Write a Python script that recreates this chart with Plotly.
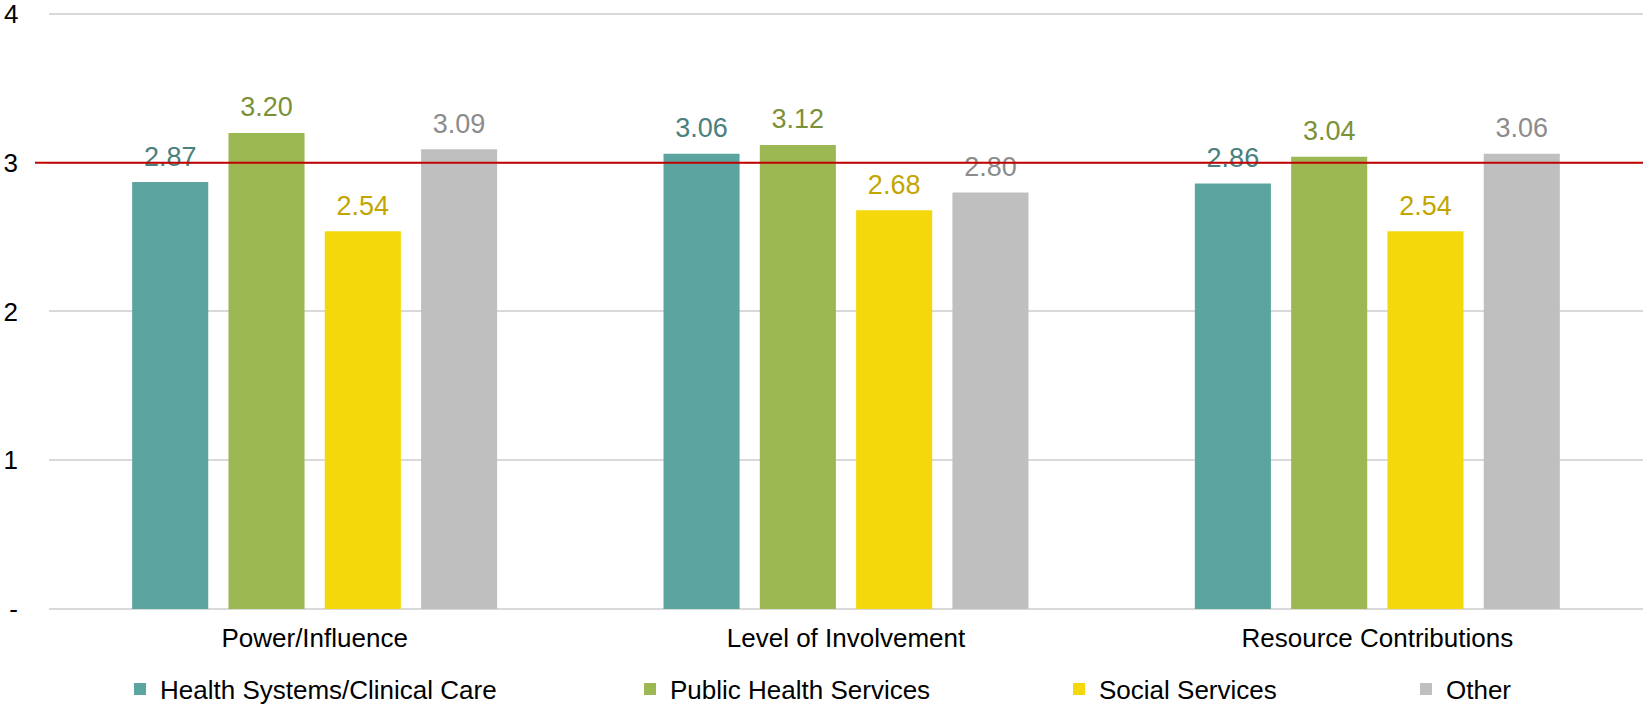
import plotly.graph_objects as go

categories = ["Power/Influence", "Level of Involvement", "Resource Contributions"]
series_names = ["Health Systems/Clinical Care", "Public Health Services", "Social Services", "Other"]
health_systems = [2.87, 3.06, 2.86]
public_health = [3.20, 3.12, 3.04]
social_services = [2.54, 2.68, 2.54]
other = [3.09, 2.80, 3.06]
series_values = [health_systems, public_health, social_services, other]

bar_colors = ["#5BA4A0", "#9BB853", "#F5D80C", "#BFBFBF"]
label_colors = ["#4A807D", "#7B9139", "#C3A500", "#8C8C8C"]
legend_text_x = [161, 671, 1100, 1447]

y_tickvals = [0, 1, 2, 3, 4]
y_ticktext = ["-", "1", "2", "3", "4"]
target_value = 3

W, H = 1643, 704
FONT = "Liberation Sans, Arial, sans-serif"
BARGAP = 0.275
Y_MAX = 4.02

fig = go.Figure()
legend_ids = ["legend", "legend2", "legend3", "legend4"]
for i, (name, vals) in enumerate(zip(series_names, series_values)):
    fig.add_trace(go.Bar(
        x=categories, y=vals, name=name,
        marker=dict(color=bar_colors[i], line=dict(width=0)),
        legend=legend_ids[i],
        hoverinfo="x+y+name",
    ))
for i, (name, vals) in enumerate(zip(series_names, series_values)):
    fig.add_trace(go.Scatter(
        x=categories, y=vals, mode="markers+text",
        text=[f"{v:.2f}" for v in vals],
        textposition="top center",
        textfont=dict(family=FONT, size=27, color=label_colors[i]),
        marker=dict(size=14, opacity=0),
        showlegend=False, hoverinfo="skip", cliponaxis=False,
    ))

fig.add_shape(type="line", xref="paper", yref="y",
              x0=(35 - 49) / (W - 49), x1=1, y0=target_value, y1=target_value,
              line=dict(color="#C00000", width=2.2), layer="above")

# top tick label drawn as annotation (plotly hides it at the paper edge)
shown_ticktext = y_ticktext[:-1] + [""]
fig.add_annotation(x=0, xref="paper", y=y_tickvals[-1], yref="y",
                   text=y_ticktext[-1], showarrow=False,
                   xanchor="right", yanchor="middle", xshift=-29,
                   font=dict(family=FONT, size=26, color="#000000"))

legend_layout = {}
for i, lid in enumerate(legend_ids):
    legend_layout[lid] = dict(
        orientation="h", xref="container", yref="container",
        x=(legend_text_x[i] - 41) / W, xanchor="left",
        y=1 - 689 / H, yanchor="middle",
        font=dict(family=FONT, size=26, color="#000000"),
        bgcolor="rgba(0,0,0,0)", borderwidth=0, itemwidth=30,
    )

fig.update_layout(
    width=W, height=H,
    margin=dict(l=49, r=0, t=11, b=95),
    paper_bgcolor="white", plot_bgcolor="white",
    barmode="group", bargap=BARGAP, bargroupgap=0.21,
    scattermode="group", scattergap=BARGAP,
    font=dict(family=FONT, size=26, color="#000000"),
    xaxis=dict(showgrid=False, showline=False, ticks="",
               tickfont=dict(family=FONT, size=26, color="#000000"),
               ticklabelstandoff=11, fixedrange=True),
    yaxis=dict(range=[0, Y_MAX], tickvals=y_tickvals, ticktext=shown_ticktext,
               showgrid=True, gridcolor="#D9D9D9", gridwidth=1.6,
               zeroline=True, zerolinecolor="#D9D9D9", zerolinewidth=1.6,
               showline=False, ticks="",
               tickfont=dict(family=FONT, size=26, color="#000000"),
               ticklabelstandoff=30, fixedrange=True),
    **legend_layout,
)

fig.write_html("out.html")
